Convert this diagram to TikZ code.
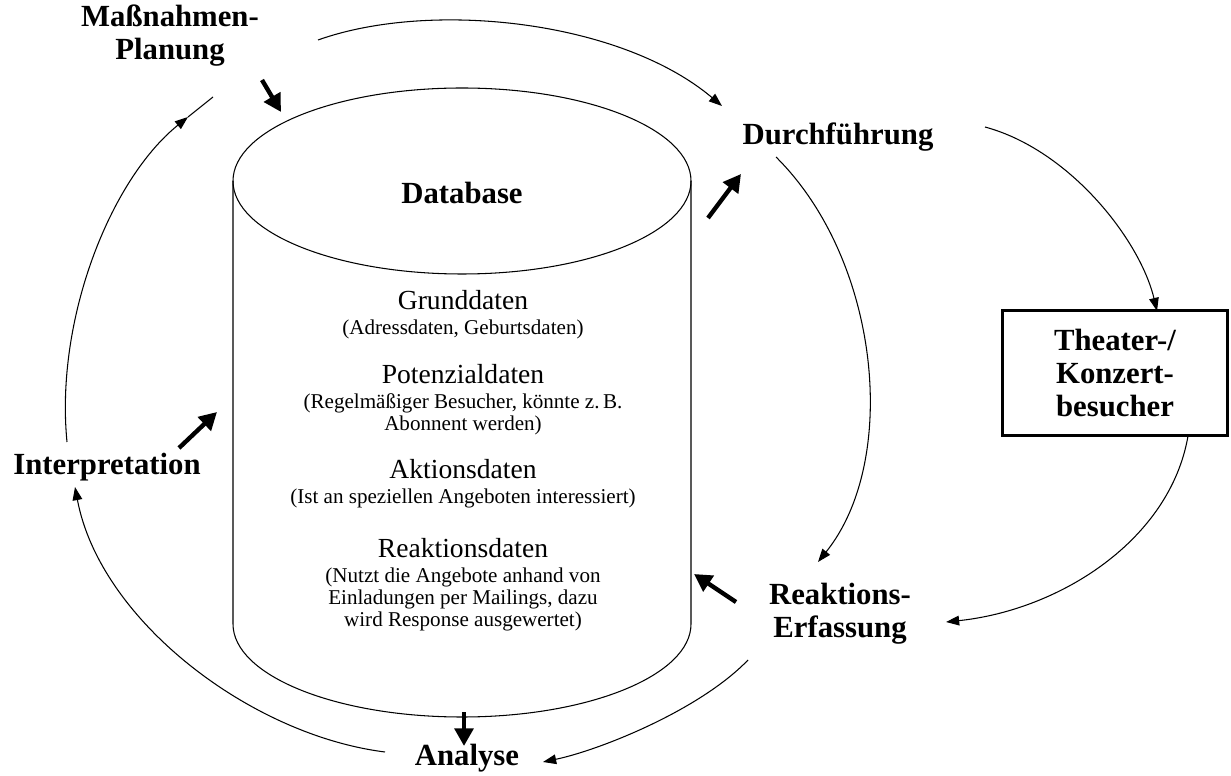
\documentclass[tikz,border=0pt]{standalone}
\usepackage{fontspec}
\setmainfont{Liberation Serif}
\usetikzlibrary{arrows.meta}

\tikzset{
  lbl/.style={font=\fontsize{17.5}{18.8}\selectfont\bfseries, align=center},
  big/.style={font=\fontsize{15.7}{18}\selectfont},
  small/.style={font=\fontsize{12}{12.5}\selectfont, align=center},
  flow/.style={line width=0.6pt, -{Triangle[length=7.5pt,width=5.5pt]}},
  fat/.style={line width=2.5pt, -{Triangle[length=10pt,width=10.5pt]}}
}

\begin{document}
\begin{tikzpicture}[x=0.02cm,y=-0.02cm]
   \useasboundingbox (0,0) rectangle (1231,776);
   % the database cylinder
   \draw[line width=0.6pt] (462,181) ellipse [x radius=229, y radius=93];
   \draw[line width=0.6pt] (233,181) -- (233,624)
        arc[start angle=180, end angle=0, x radius=229, y radius=93] -- (691,181);
   \node[lbl] (db) at (462,193) {Database};
   \node[big] (grund) at (463,300) {Grunddaten};
   \node[small] (grundx) at (463,329) {(Adressdaten, Geburtsdaten)};
   \node[big] (pot) at (463,374) {Potenzialdaten};
   \node[small] (potx) at (463,414) {(Regelmäßiger Besucher, könnte z.\,B.\\Abonnent werden)};
   \node[big] (akt) at (463,469) {Aktionsdaten};
   \node[small] (aktx) at (463,498) {(Ist an speziellen Angeboten interessiert)};
   \node[big] (reak) at (463,548) {Reaktionsdaten};
   \node[small] (reakx) at (463,599) {(Nutzt die Angebote anhand von\\Einladungen per Mailings, dazu\\wird Response ausgewertet)};
   % the cycle labels
   \node[lbl] (plan) at (170,36) {Maßnahmen-\\Planung};
   \node[lbl] (durch) at (838,137) {Durchführung};
   \node[lbl] (reakt) at (840,614) {Reaktions-\\Erfassung};
   \node[lbl] (analyse) at (467,758) {Analyse};
   \node[lbl] (interp) at (107,467) {Interpretation};
   \node[lbl, draw, line width=1.5pt, minimum width=4.5cm, minimum height=2.5cm]
        (besucher) at (1115,373) {Theater-/\\Konzert-\\besucher};
   % connector ends
   \coordinate (plan-r) at (318,40);
   \coordinate (plan-b) at (213,97);
   \coordinate (plan-in) at (188,117);
   \coordinate (durch-l) at (722,106);
   \coordinate (durch-b) at (776,157);
   \coordinate (durch-r) at (985,127);
   \coordinate (reakt-t) at (818,562);
   \coordinate (reakt-r) at (946,622);
   \coordinate (reakt-b) at (748,660);
   \coordinate (analyse-r) at (543,762);
   \coordinate (analyse-l) at (385,752);
   \coordinate (interp-b) at (75,487);
   \coordinate (interp-t) at (67,442);
   \coordinate (bes-t) at (1157,311);
   \coordinate (bes-b) at (1188,436);
   % thin cycle
   \draw[flow] (plan-r) .. controls (430,0) and (620,20) .. (durch-l);
   \draw[flow] (durch-b) .. controls (880,260) and (900,460) .. (reakt-t);
   \draw[flow] (durch-r) .. controls (1070,150) and (1140,240) .. (bes-t);
   \draw[flow] (bes-b) .. controls (1170,540) and (1060,610) .. (reakt-r);
   \draw[flow] (reakt-b) .. controls (700,710) and (600,750) .. (analyse-r);
   \draw[flow] (analyse-l) .. controls (250,735) and (100,620) .. (interp-b);
   \draw[flow] (interp-t) .. controls (55,320) and (110,180) .. (plan-in);
   \draw[line width=0.6pt] (plan-in) -- (plan-b);
   % thick arrows to and from the database
   \draw[fat] (262,80) -- (281,112);
   \draw[fat] (708,218) -- (741,174);
   \draw[fat] (179,448) -- (217,412);
   \draw[fat] (736,602) -- (694,574);
   \draw[fat] (464,712) -- (464,746);
\end{tikzpicture}
\end{document}
